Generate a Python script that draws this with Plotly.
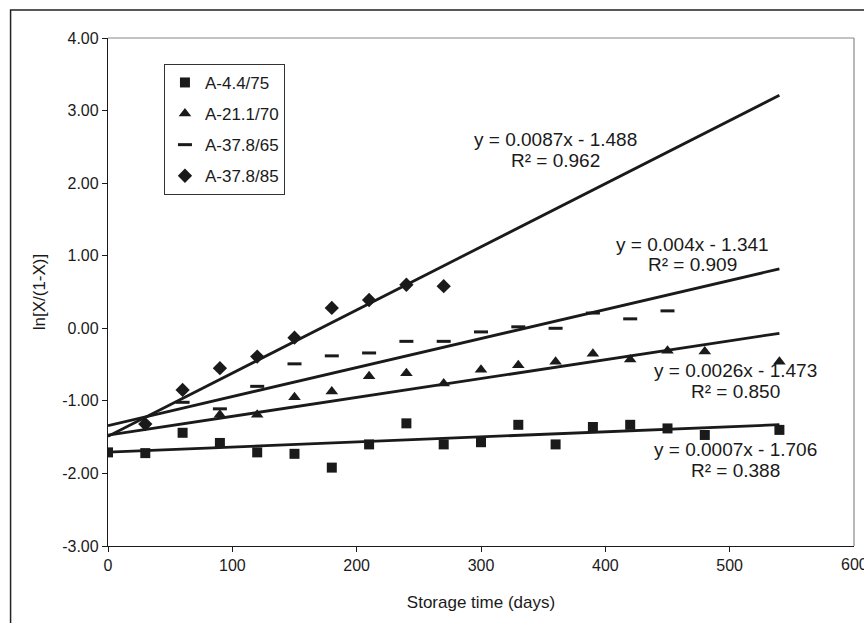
import numpy as np
import plotly.graph_objects as go

# ---- data ----
series_names = ["A-4.4/75", "A-21.1/70", "A-37.8/65", "A-37.8/85"]

days_sq = [0, 30, 60, 90, 120, 150, 180, 210, 240, 270, 300, 330, 360, 390, 420, 450, 480, 540]
vals_sq = [-1.71, -1.72, -1.44, -1.58, -1.71, -1.73, -1.92, -1.60, -1.31, -1.60, -1.57, -1.33,
           -1.60, -1.36, -1.33, -1.38, -1.47, -1.40]

days_tri = [90, 120, 150, 180, 210, 240, 270, 300, 330, 360, 390, 420, 450, 480, 540]
vals_tri = [-1.19, -1.19, -0.95, -0.87, -0.66, -0.62, -0.76, -0.57, -0.51, -0.46, -0.35, -0.43,
            -0.31, -0.32, -0.46]

days_dash = [60, 90, 120, 150, 180, 210, 240, 270, 300, 330, 360, 390, 420, 450]
vals_dash = [-1.02, -1.11, -0.80, -0.49, -0.38, -0.34, -0.18, -0.18, -0.05, 0.02, 0.00, 0.21,
             0.13, 0.24]

days_dia = [30, 60, 90, 120, 150, 180, 210, 240, 270]
vals_dia = [-1.32, -0.85, -0.55, -0.39, -0.13, 0.28, 0.39, 0.60, 0.58]

# trendline coefficients (slope, intercept, R²) as printed on the chart
slopes = [0.0007, 0.0026, 0.004, 0.0087]
intercepts = [-1.706, -1.473, -1.341, -1.488]
r2 = ["0.388", "0.850", "0.909", "0.962"]
slope_txt = ["0.0007", "0.0026", "0.004", "0.0087"]
trend_range = [0, 540]

# label anchor positions (data coords): equation row and R² row
label_x = [505, 505, 470, 360]
label_eq_y = [-1.67, -0.58, 1.16, 2.60]
label_r2_y = [-1.96, -0.87, 0.88, 2.31]

x_ticks = [0, 100, 200, 300, 400, 500, 600]
y_ticks = [-3, -2, -1, 0, 1, 2, 3, 4]

FONT = "Liberation Sans, Arial, Helvetica, sans-serif"
INK = "#1a1a1a"

fig = go.Figure()

marker_specs = [
    dict(symbol="square", size=10, color=INK),
    dict(symbol="triangle-up", size=11, color=INK),
    dict(symbol="line-ew", size=10, color=INK, line=dict(width=3, color=INK)),
    dict(symbol="diamond", size=11, color=INK),
]
data = [(days_sq, vals_sq), (days_tri, vals_tri), (days_dash, vals_dash), (days_dia, vals_dia)]

for i, (d, v) in enumerate(data):
    fig.add_trace(go.Scatter(
        x=d, y=v, mode="markers", name=series_names[i],
        marker=marker_specs[i], legendgroup=f"g{i}",
    ))

for i in range(4):
    xs = np.array(trend_range, dtype=float)
    ys = slopes[i] * xs + intercepts[i]
    fig.add_trace(go.Scatter(
        x=xs, y=ys, mode="lines", showlegend=False, hoverinfo="skip",
        line=dict(color=INK, width=2.8),
    ))

for i in range(4):
    fig.add_annotation(
        x=label_x[i], y=label_eq_y[i], xref="x", yref="y",
        text=f"y = {slope_txt[i]}x - {abs(intercepts[i]):.3f}",
        showarrow=False, font=dict(family=FONT, size=19, color=INK),
    )
    fig.add_annotation(
        x=label_x[i], y=label_r2_y[i], xref="x", yref="y",
        text=f"R² = {r2[i]}",
        showarrow=False, font=dict(family=FONT, size=19, color=INK),
    )

# the last x tick label runs past the page edge in the reference; plotly drops it,
# so draw it as an annotation anchored to the axis value
fig.add_annotation(
    x=x_ticks[-1], y=0, xref="x", yref="paper", yanchor="top", xanchor="center",
    yshift=-8, text=str(x_ticks[-1]), showarrow=False,
    font=dict(family=FONT, size=16, color=INK),
)

# outer frame and top/right plot borders
fig.add_shape(type="rect", xref="paper", yref="paper",
              x0=-0.1306, y0=-0.2, x1=1.03, y1=1.0551,
              line=dict(color="#222222", width=1.5), layer="below")
fig.add_shape(type="line", xref="paper", yref="paper", x0=0, y0=1, x1=1, y1=1,
              line=dict(color="#888888", width=1.2))
fig.add_shape(type="line", xref="paper", yref="paper", x0=1, y0=0, x1=1, y1=1,
              line=dict(color="#888888", width=1.2))

fig.update_layout(
    width=864, height=623,
    margin=dict(l=108, r=10, t=38, b=77),
    paper_bgcolor="white", plot_bgcolor="white",
    font=dict(family=FONT, size=16, color=INK),
    showlegend=True,
    legend=dict(
        x=0.075, y=0.949, xanchor="left", yanchor="top",
        bordercolor="#333333", borderwidth=1, bgcolor="white",
        font=dict(family=FONT, size=17, color=INK),
        tracegroupgap=6, itemwidth=30,
    ),
    xaxis=dict(
        range=[0, 600], tickvals=x_ticks[:-1], ticktext=[str(t) for t in x_ticks[:-1]],
        ticks="outside", ticklen=5, tickcolor=INK,
        showline=True, linecolor=INK, linewidth=1.3,
        showgrid=False, zeroline=False,
        tickfont=dict(size=16),
        title=dict(text="Storage time (days)", font=dict(size=17), standoff=22),
    ),
    yaxis=dict(
        range=[-3, 4], tickvals=y_ticks, ticktext=[f"{t:.2f}" for t in y_ticks],
        ticks="outside", ticklen=5, tickcolor=INK,
        showline=True, linecolor=INK, linewidth=1.3,
        showgrid=False, zeroline=False,
        tickfont=dict(size=16),
        title=dict(text="ln[X/(1-X)]", font=dict(size=17), standoff=12),
    ),
)

fig.write_html("out.html")
